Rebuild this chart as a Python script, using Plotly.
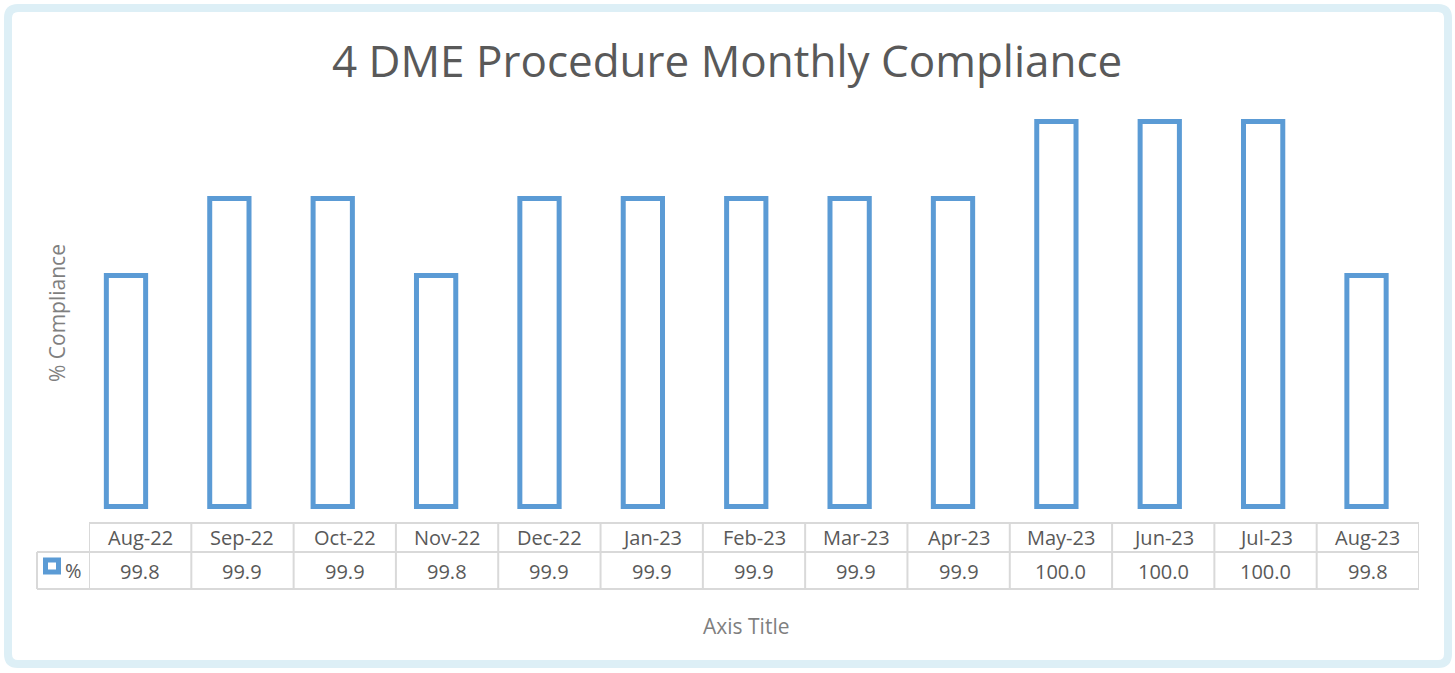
import plotly.graph_objects as go

W, H = 1455, 673

months = ["Aug-22", "Sep-22", "Oct-22", "Nov-22", "Dec-22", "Jan-23", "Feb-23",
          "Mar-23", "Apr-23", "May-23", "Jun-23", "Jul-23", "Aug-23"]
compliance = [99.8, 99.9, 99.9, 99.8, 99.9, 99.9, 99.9, 99.9, 99.9, 100.0, 100.0, 100.0, 99.8]
series_name = "%"
title_text = "4 DME Procedure Monthly Compliance"
y_title = "% Compliance"
x_title = "Axis Title"
y_min, y_max = 99.49, 100.02
y_base = 99.5

BLUE = "#5B9BD5"
TEXT = "#595959"
GRID = "#D9D9D9"
FRAME = "#DDEFF6"

def px(x):
    return x / W

def py(y):
    return 1 - y / H

fig = go.Figure()
fig.add_trace(go.Bar(
    x=months, y=[v - y_base for v in compliance], base=y_base, name=series_name,
    width=0.38,
    marker=dict(color="white", line=dict(color=BLUE, width=5)),
    hoverinfo="x+y", showlegend=False,
))

# plot geometry: 99.5 at y=506.5px, 100.0 at 121.5px
ppu = (506.5 - 121.5) / 0.5
ybot = 506.5 + (y_base - y_min) * ppu
ytop = 121.5 - (y_max - 100.0) * ppu

tab_l, tab_r = 89, 1419
hdr_top, row_mid, row_bot = 523, 552, 589
leg_l = 37

fig.update_layout(
    width=W, height=H,
    margin=dict(l=0, r=0, t=0, b=0),
    paper_bgcolor="white", plot_bgcolor="rgba(0,0,0,0)",
    font=dict(family="Open Sans, sans-serif", color=TEXT),
    xaxis=dict(domain=[px(74.3), px(1418.2)], visible=False,
               type="category", range=[-0.5, len(months) - 0.5]),
    xaxis2=dict(domain=[px(tab_l), px(tab_r)], visible=False,
                range=[-0.5, len(months) - 0.5], anchor="y"),
    yaxis=dict(domain=[py(ybot), py(ytop)], range=[y_min, y_max], visible=False),
)

shapes = []
# outer rounded frame
x0, y0, x1, y1 = 8, 8, 1448, 664
r = 10
path = (f"M {px(x0 + r)},{py(y0)} L {px(x1 - r)},{py(y0)} "
        f"Q {px(x1)},{py(y0)} {px(x1)},{py(y0 + r)} L {px(x1)},{py(y1 - r)} "
        f"Q {px(x1)},{py(y1)} {px(x1 - r)},{py(y1)} L {px(x0 + r)},{py(y1)} "
        f"Q {px(x0)},{py(y1)} {px(x0)},{py(y1 - r)} L {px(x0)},{py(y0 + r)} "
        f"Q {px(x0)},{py(y0)} {px(x0 + r)},{py(y0)} Z")
shapes.append(dict(type="path", path=path, xref="paper", yref="paper",
                   line=dict(color=FRAME, width=8), layer="below"))

# table grid
gl = dict(color=GRID, width=2)
shapes.append(dict(type="line", xref="paper", yref="paper", x0=px(tab_l), x1=px(tab_r),
                   y0=py(hdr_top), y1=py(hdr_top), line=gl))
for yy in (row_mid, row_bot):
    shapes.append(dict(type="line", xref="paper", yref="paper", x0=px(leg_l), x1=px(tab_r),
                       y0=py(yy), y1=py(yy), line=gl))
shapes.append(dict(type="line", xref="paper", yref="paper", x0=px(leg_l), x1=px(leg_l),
                   y0=py(row_mid), y1=py(row_bot), line=gl))
for i in range(len(months) + 1):
    shapes.append(dict(type="line", xref="x2", yref="paper", x0=i - 0.5, x1=i - 0.5,
                       y0=py(hdr_top), y1=py(row_bot), line=gl))
# legend key
shapes.append(dict(type="rect", xref="paper", yref="paper", x0=px(45.5), x1=px(58.5),
                   y0=py(560), y1=py(572), fillcolor="white",
                   line=dict(color=BLUE, width=5)))
fig.update_layout(shapes=shapes)

ann = []
for i, (m, v) in enumerate(zip(months, compliance)):
    ann.append(dict(x=i, y=py(537.5), xref="x2", yref="paper", text=m, showarrow=False,
                    font=dict(size=20, color=TEXT), xanchor="center", yanchor="middle"))
    ann.append(dict(x=i, y=py(571), xref="x2", yref="paper", text=f"{v:.1f}", showarrow=False,
                    font=dict(size=20, color=TEXT), xanchor="center", yanchor="middle"))
ann.append(dict(x=px(63), y=py(570), xref="paper", yref="paper", text=series_name,
                showarrow=False, font=dict(size=20, color=TEXT), xanchor="left", yanchor="middle"))
ann.append(dict(x=px(727), y=py(60), xref="paper", yref="paper", text=title_text,
                showarrow=False, font=dict(size=44, color=TEXT), xanchor="center", yanchor="middle"))
ann.append(dict(x=px(57), y=py(313), xref="paper", yref="paper", text=y_title, textangle=-90,
                showarrow=False, font=dict(size=21, color="#7F7F7F"), xanchor="center", yanchor="middle"))
ann.append(dict(x=px(746), y=py(626), xref="paper", yref="paper", text=x_title,
                showarrow=False, font=dict(size=21, color="#7F7F7F"), xanchor="center", yanchor="middle"))
fig.update_layout(annotations=ann)

fig.write_html("out.html", config={"displayModeBar": False},
               post_script="document.body.style.margin='0';document.body.style.overflow='hidden';")
